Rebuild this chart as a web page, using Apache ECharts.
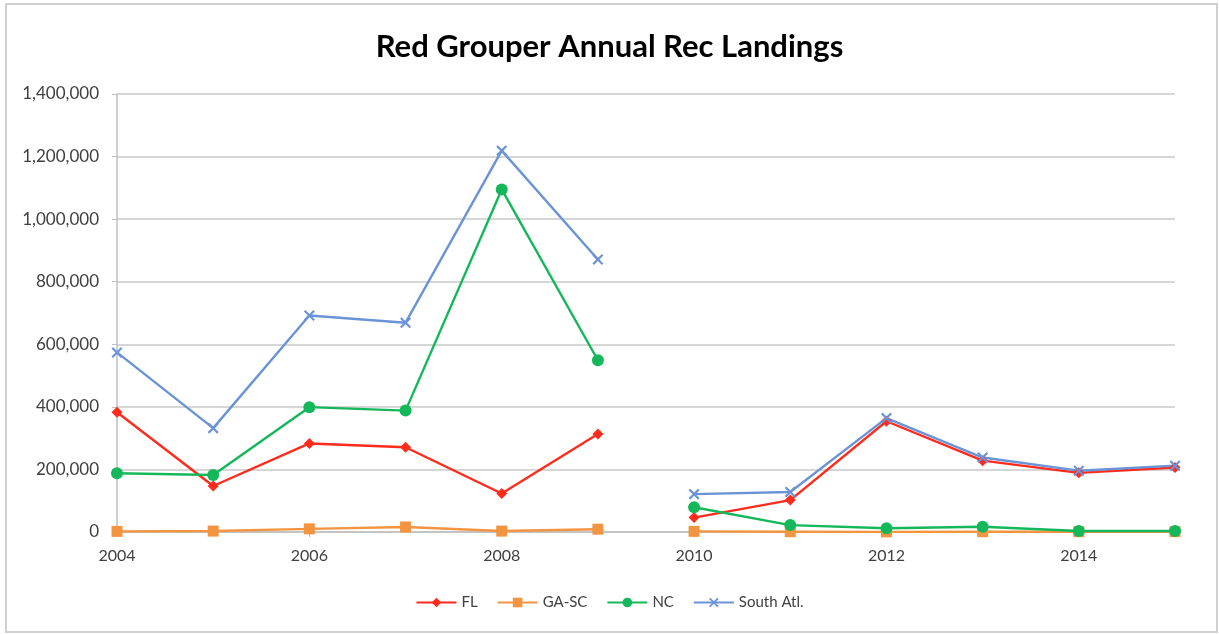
<!DOCTYPE html>
<html>
<head>
<meta charset="utf-8">
<title>Red Grouper Annual Rec Landings</title>
<script src="https://cdn.jsdelivr.net/npm/echarts@6/dist/echarts.min.js"></script>
<style>
  html, body { margin: 0; padding: 0; background: #fff; }
  #main { width: 1219px; height: 634px; }
</style>
</head>
<body>
<div id="main"></div>
<script>
// data
var years = ['2004', '2005', '2006', '2007', '2008', '2009', '2010', '2011', '2012', '2013', '2014', '2015'];
var fl = [383000, 147000, 283000, 271000, 123000, 313000, 46000, 102000, 354000, 228000, 189000, 206000];
var gaSc = [2000, 3000, 10000, 16000, 3000, 9000, 2000, 1000, 500, 1000, 1000, 1000];
var nc = [188000, 182000, 399000, 388000, 1095000, 549000, 79000, 22000, 12000, 17000, 3000, 3000];
var southAtl = [574000, 332000, 692000, 669000, 1219000, 871000, 121000, 128000, 364000, 238000, 196000, 212000];
var yTicks = [0, 200000, 400000, 600000, 800000, 1000000, 1200000, 1400000];
var breakAfter = '2009'; // line is not drawn between 2009 and 2010

var chart = echarts.init(document.getElementById('main'));
var font = 'Lato, "Open Sans", sans-serif';
var xShape = 'path://M0,1.4L1.4,0L5,3.6L8.6,0L10,1.4L6.4,5L10,8.6L8.6,10L5,6.4L1.4,10L0,8.6L3.6,5Z';

var regions = [
  { name: 'FL', data: fl, color: '#FF2B1C', symbol: 'diamond', size: 11 },
  { name: 'GA-SC', data: gaSc, color: '#F39440', symbol: 'rect', size: 11 },
  { name: 'NC', data: nc, color: '#14B85A', symbol: 'circle', size: 12 },
  { name: 'South Atl.', data: southAtl, color: '#6A93D8', symbol: xShape, size: 11 }
];

var cut = years.indexOf(breakAfter) + 1;
var series = [];
regions.forEach(function (r) {
  [[0, cut], [cut, years.length]].forEach(function (part) {
    series.push({
      name: r.name,
      type: 'line',
      data: r.data.map(function (v, i) { return (i >= part[0] && i < part[1]) ? v : null; }),
      symbol: r.symbol,
      symbolSize: r.size,
      showAllSymbol: true,
      connectNulls: false,
      lineStyle: { color: r.color, width: 2.4 },
      itemStyle: { color: r.color }
    });
  });
});

var option = {
  animation: false,
  backgroundColor: '#fff',
  title: {
    text: 'Red Grouper Annual Rec Landings',
    left: 'center',
    top: 26,
    textStyle: { fontFamily: font, fontSize: 31, fontWeight: 'bold', color: '#000' }
  },
  legend: {
    data: regions.map(function (r) { return r.name; }),
    bottom: 19,
    left: 'center',
    itemWidth: 40,
    itemHeight: 12,
    itemGap: 19,
    textStyle: { fontFamily: font, fontSize: 15, color: '#404040' }
  },
  grid: { left: 117, right: 44, top: 94, bottom: 102 },
  xAxis: {
    type: 'category',
    data: years,
    boundaryGap: false,
    axisLine: { lineStyle: { color: '#bfbfbf', width: 1.5 } },
    axisTick: { show: true, interval: 1, length: 5, lineStyle: { color: '#bfbfbf' } },
    axisLabel: { interval: 1, margin: 16, fontFamily: font, fontSize: 16, color: '#404040' },
    splitLine: { show: false }
  },
  yAxis: {
    type: 'value',
    min: yTicks[0],
    max: yTicks[yTicks.length - 1],
    interval: yTicks[1] - yTicks[0],
    axisLine: { show: true, lineStyle: { color: '#bfbfbf', width: 1.5 } },
    axisTick: { show: true, length: 5, lineStyle: { color: '#bfbfbf' } },
    axisLabel: {
      margin: 18,
      fontFamily: font, fontSize: 17, color: '#404040',
      formatter: function (v) { return v.toLocaleString('en-US'); }
    },
    splitLine: { lineStyle: { color: '#d6d6d6', width: 2 } }
  },
  graphic: [{
    type: 'rect',
    shape: { x: 6, y: 4, width: 1211, height: 628 },
    style: { fill: 'none', stroke: '#d0d0d0', lineWidth: 2 },
    silent: true
  }],
  series: series
};

chart.setOption(option);
</script>
</body>
</html>
